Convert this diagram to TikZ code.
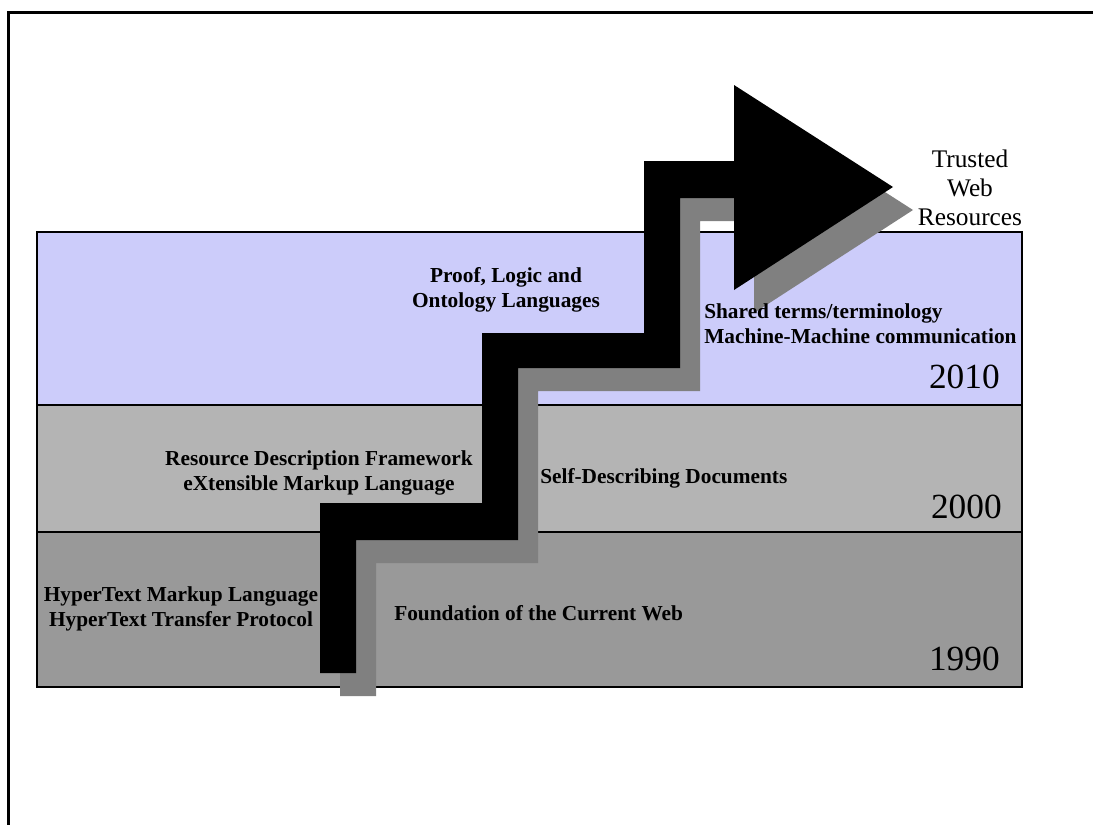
\documentclass[tikz,border=0pt]{standalone}
\usepackage{fontspec}
\setmainfont{Liberation Serif}
\definecolor{lavender2010}{RGB}{204,204,250}
\definecolor{grey2000}{RGB}{180,180,180}
\definecolor{grey1990}{RGB}{153,153,153}
\definecolor{stairshade}{RGB}{128,128,128}
\begin{document}
\begin{tikzpicture}[x=0.75pt,y=-0.75pt,
  bandline/.style={draw=black, line width=1.2pt},
  lbl/.style={font=\fontsize{16}{18.5}\selectfont\bfseries, inner sep=0pt, align=center},
  year/.style={font=\fontsize{26.5}{30}\selectfont, inner sep=0pt, anchor=base east},
  goal/.style={font=\fontsize{19}{21.5}\selectfont, inner sep=0pt, align=center, anchor=base},
]
\useasboundingbox (0,0) rectangle (1093,825);
\fill[white] (0,0) rectangle (1093,825);
% page frame (left and top edges)
\draw[line width=1.6pt] (8.5,825) -- (8.5,12.5) -- (1093,12.5);

% decade bands
\fill[lavender2010] (37,232) rectangle (1022,405);
\fill[grey2000] (37,405) rectangle (1022,532);
\fill[grey1990] (37,532) rectangle (1022,687);
\draw[bandline] (37,232) rectangle (1022,687);
\draw[bandline] (37,405) -- (1022,405);
\draw[bandline] (37,532) -- (1022,532);

% staircase arrow: shadow first, then the black arrow
\foreach \dx/\dy/\col in {20/23/stairshade, 0/0/black}{
  \fill[\col, shift={(\dx,\dy)}]
    (320,673) -- (320,503) -- (482,503) -- (482,333) -- (644,333)
    -- (644,161) -- (734,161) -- (734,85) -- (893,187) -- (734,290)
    -- (734,198) -- (680,198) -- (680,368) -- (518,368) -- (518,540)
    -- (356,540) -- (356,673) -- cycle;
}

% labels (multi-line labels are placed by the baseline of their last line)
\node[goal] (trusted) at (970,225) {Trusted\\Web\\Resources};

\node[lbl, anchor=base] (proof) at (506,307) {Proof, Logic and\\Ontology Languages};
\node[lbl, anchor=base west, align=left] (shared) at (704,343) {Shared terms/terminology\\Machine-Machine communication};
\node[year] (y2010) at (1000,388) {2010};

\node[lbl, anchor=base] (rdf) at (319,490) {Resource Description Framework\\eXtensible Markup Language};
\node[lbl, anchor=base west] (selfdesc) at (540,483) {Self-Describing Documents};
\node[year] (y2000) at (1002,518) {2000};

\node[lbl, anchor=base] (html) at (181,626) {HyperText Markup Language\\HyperText Transfer Protocol};
\node[lbl, anchor=base west] (found) at (394,620) {Foundation of the Current Web};
\node[year] (y1990) at (1000,670) {1990};
\end{tikzpicture}
\end{document}
